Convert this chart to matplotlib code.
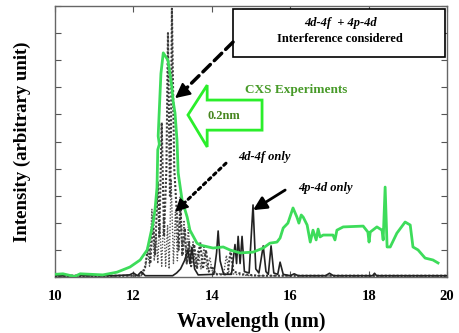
import matplotlib
matplotlib.use("Agg")
import matplotlib.pyplot as plt
from matplotlib.patches import Polygon, Rectangle

plt.rcParams["font.family"] = ["Liberation Serif", "DejaVu Serif"]

# --- CXS experiment (green) ---
cxs_x = [10.0, 10.2, 10.5, 10.64, 11.22, 11.58, 11.91, 12.09, 12.17, 12.35, 12.5, 12.55,
         12.6, 12.62, 12.66, 12.63, 12.66, 12.7, 12.76, 12.88, 12.98, 13.01, 13.06, 13.11,
         13.14, 13.24, 13.37, 13.44, 13.62, 13.7, 14.03, 14.29, 14.46, 14.72, 15.05, 15.31,
         15.48, 15.66, 15.74, 15.82, 15.94, 16.07, 16.17, 16.22, 16.28, 16.33, 16.43, 16.51,
         16.58, 16.66, 16.71, 16.76, 16.84, 17.09, 17.14, 17.19, 17.35, 17.86, 17.98, 18.01,
         18.04, 18.21, 18.34, 18.37, 18.42, 18.47, 18.55, 18.72, 18.93, 19.06, 19.13, 19.26,
         19.44, 19.64, 19.77]
cxs_y = [0.1, 0.12, 0.02, 0.12, 0.08, 0.18, 0.37, 0.55, 0.63, 1.0, 2.0, 2.5,
         3.3, 4.7, 4.9, 5.2, 6.2, 7.5, 8.27, 8.0, 7.0, 6.5, 6.05, 5.05,
         3.84, 2.84, 2.21, 1.73, 1.25, 1.18, 1.07, 1.11, 1.0, 0.89, 0.92, 1.07,
         1.25, 1.29, 1.44, 1.81, 1.99, 2.55, 2.21, 1.99, 2.29, 2.21, 1.92, 1.29,
         1.73, 1.37, 1.77, 1.48, 1.55, 1.55, 1.37, 1.73, 1.85, 1.88, 1.66, 1.29,
         1.66, 1.85, 1.73, 1.37, 3.32, 1.11, 1.11, 1.62, 2.03, 1.92, 1.11, 1.0,
         0.7, 0.63, 0.52]

# --- 4d-4f + 4p-4d, interference considered (dense dotted) ---
intf_x = [10.0, 12.2, 12.3, 12.38, 12.43, 12.5, 12.55, 12.62, 12.66, 12.72, 12.78, 12.84,
          12.88, 12.93, 12.95, 12.98, 13.04, 13.1, 13.15, 13.2, 13.25, 13.31, 13.36, 13.42,
          13.47, 13.55, 13.62, 13.7, 13.77, 13.85, 13.92, 14.0, 14.1, 14.4, 14.48, 14.55,
          14.8, 15.2, 20.0]
intf_y = [0.05, 0.05, 0.4, 1.2, 0.5, 2.2, 0.8, 3.5, 1.5, 5.7, 1.5, 4.0,
          9.0, 3.0, 4.0, 9.9, 4.0, 2.5, 1.0, 2.6, 0.8, 1.8, 0.5, 1.3,
          0.4, 1.2, 0.3, 1.3, 0.3, 1.0, 0.2, 0.4, 0.1, 0.1, 1.0, 0.2,
          0.1, 0.05, 0.05]

# --- 4d-4f only (dotted) ---
df_x = [10.0, 12.2, 12.3, 12.36, 12.41, 12.47, 12.53, 12.58, 12.62, 12.67, 12.72, 12.77,
        12.82, 12.87, 12.91, 12.96, 13.02, 13.07, 13.12, 13.19, 13.24, 13.29, 13.34, 13.4,
        13.45, 13.52, 13.58, 13.65, 13.72, 13.8, 13.87, 13.95, 14.02, 14.3, 14.37, 14.44,
        14.6, 15.0, 20.0]
df_y = [0.03, 0.05, 0.3, 1.0, 0.4, 2.5, 0.6, 1.6, 0.5, 2.0, 0.4, 2.2,
        0.4, 1.9, 0.3, 3.6, 0.5, 2.4, 0.6, 2.95, 0.8, 2.1, 0.6, 1.85,
        0.5, 1.3, 0.4, 1.0, 0.3, 1.1, 0.3, 0.7, 0.15, 0.1, 0.8, 0.15,
        0.1, 0.05, 0.03]

# --- 4p-4d only (solid) ---
pd_x = [10.0, 11.5, 11.9, 12.0, 12.1, 12.2, 12.3, 13.0, 13.1, 13.2, 13.3, 13.39, 13.44,
        13.49, 13.56, 13.65, 14.05, 14.12, 14.16, 14.21, 14.3, 14.5, 14.59, 14.63, 14.67,
        14.72, 14.77, 14.83, 14.95, 15.05, 15.12, 15.2, 15.31, 15.38, 15.44, 15.51, 15.58,
        15.68, 15.74, 15.82, 16.0, 16.1, 16.2, 16.9, 17.0, 17.1, 18.1, 18.15, 18.2, 19.0, 20.0]
pd_y = [0.05, 0.05, 0.08, 0.15, 0.05, 0.2, 0.05, 0.05, 0.15, 0.3, 0.6, 1.0, 0.5,
        1.1, 0.3, 0.08, 0.1, 0.9, 1.7, 0.6, 0.1, 0.1, 1.2, 0.5, 1.5,
        0.5, 1.5, 0.2, 0.15, 2.66, 0.3, 0.15, 1.15, 0.2, 0.1, 1.15, 0.15,
        0.1, 0.55, 0.1, 0.05, 0.12, 0.05, 0.05, 0.14, 0.05, 0.05, 0.14, 0.05, 0.05, 0.05]

x_ticks = [10, 12, 14, 16, 18, 20]

GREEN = "#3ddc5a"
ARROW_GREEN = "#2bee2b"
TEXT_GREEN = "#479a28"

fig = plt.figure(figsize=(4.59, 3.33), dpi=100, facecolor="white")
ax = fig.add_axes([0.120, 0.168, 0.854, 0.814])

ax.plot(df_x, df_y, color="#555555", lw=1.0, ls=(0, (1, 1.2)), zorder=2)
ax.plot(intf_x, intf_y, color="#3a3a3a", lw=1.5, ls=(0, (1, 0.9)), zorder=3)
ax.plot(pd_x, pd_y, color="#222222", lw=1.2, zorder=3)
ax.plot(cxs_x, cxs_y, color=GREEN, lw=2.0, zorder=4)

ax.set_xlim(10, 20)
ax.set_ylim(0, 10)
ax.set_xticks(x_ticks)
ax.set_yticks(range(0, 11))
ax.set_yticklabels([])
ax.tick_params(direction="in", top=True, right=True, length=4, width=0.8, color="#555555",
               labelsize=10.5, pad=9)
for lab in ax.get_xticklabels():
    lab.set_fontweight("bold")
for sp in ax.spines.values():
    sp.set_color("#666666")
    sp.set_linewidth(1.0)

ax.set_xlabel("Wavelength (nm)", fontsize=14.5, fontweight="bold", labelpad=7)
ax.set_ylabel("Intensity (arbitrary unit)", fontsize=13.5, fontweight="bold", labelpad=8)

# box: interference considered
ax.add_patch(Rectangle((14.54, 8.12), 5.41, 1.77, facecolor="white", edgecolor="black",
                       lw=1.2, zorder=6, clip_on=False))
ax.text(17.27, 9.38, "4d-4f  + 4p-4d", ha="center", va="center", fontsize=9,
        fontweight="bold", fontstyle="italic", zorder=7)
ax.text(17.27, 8.8, "Interference considered", ha="center", va="center", fontsize=9,
        fontweight="bold", zorder=7)

# dashed arrow from box
ax.annotate("", xy=(13.22, 6.78), xytext=(14.54, 8.67),
            arrowprops=dict(arrowstyle="-", lw=2.5, ls=(0, (3, 1.6)), color="black",
                            shrinkA=0, shrinkB=0), zorder=6)
ax.annotate("", xy=(13.06, 6.6), xytext=(13.3, 6.88),
            arrowprops=dict(arrowstyle="-|>,head_length=0.9,head_width=0.45", lw=1.5,
                            color="black", shrinkA=0, shrinkB=0), zorder=6)

# hollow green arrow (0.2nm shift)
ax.add_patch(Polygon([(13.39, 5.98), (13.88, 7.08), (13.88, 6.53), (15.28, 6.53),
                      (15.28, 5.42), (13.88, 5.42), (13.88, 4.80)], closed=True,
                     facecolor="white", edgecolor=ARROW_GREEN, lw=2.0, zorder=6))
ax.text(14.3, 5.93, "0.2nm", ha="center", va="center", fontsize=9, fontweight="bold",
        color="#47861f", zorder=7)

ax.text(16.15, 6.9, "CXS Experiments", ha="center", va="center", fontsize=9.5,
        fontweight="bold", color=TEXT_GREEN, zorder=7)

# 4d-4f only
ax.text(15.33, 4.43, "4d-4f only", ha="center", va="center", fontsize=9,
        fontweight="bold", fontstyle="italic", zorder=7)
ax.annotate("", xy=(13.2, 2.6), xytext=(14.36, 4.2),
            arrowprops=dict(arrowstyle="-", lw=2.2, ls=(0, (1, 1.3)), color="black",
                            shrinkA=0, shrinkB=0), zorder=6)
ax.annotate("", xy=(13.06, 2.40), xytext=(13.25, 2.67),
            arrowprops=dict(arrowstyle="-|>,head_length=0.8,head_width=0.4", lw=1.2,
                            color="black", shrinkA=0, shrinkB=0), zorder=6)

# 4p-4d only
ax.text(16.91, 3.28, "4p-4d only", ha="center", va="center", fontsize=9,
        fontweight="bold", fontstyle="italic", zorder=7)
ax.annotate("", xy=(15.05, 2.47), xytext=(15.87, 3.21),
            arrowprops=dict(arrowstyle="-|>,head_length=0.8,head_width=0.4", lw=2.0,
                            color="black", shrinkA=0, shrinkB=0), zorder=6)

fig.savefig("out.png", dpi=100, facecolor="white")
